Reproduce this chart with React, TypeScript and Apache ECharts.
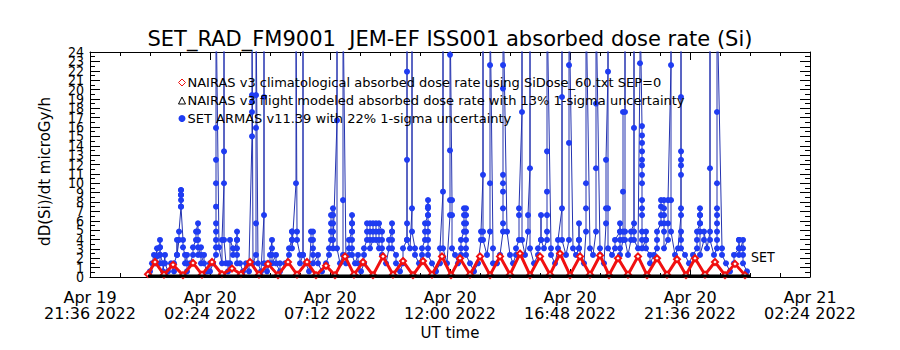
import React, { useEffect, useRef } from "react";
import * as echarts from "echarts";

// x axis: hours since Apr 19 2022 21:36 UT
const xTickLabels = [
  "Apr 19\n21:36 2022",
  "Apr 20\n02:24 2022",
  "Apr 20\n07:12 2022",
  "Apr 20\n12:00 2022",
  "Apr 20\n16:48 2022",
  "Apr 20\n21:36 2022",
  "Apr 21\n02:24 2022",
];
// y tick labels (every integer 0..24, split in two sets so all are drawn)
const yTicksEven = [0, 2, 4, 6, 8, 10, 12, 14, 16, 18, 20, 22, 24];
const yTicksOdd = [1, 3, 5, 7, 9, 11, 13, 15, 17, 19, 21, 23];

const titleText = "SET_RAD_FM9001  JEM-EF ISS001 absorbed dose rate (Si)";
const yName = "dD(Si)/dt microGy/h";
const xName = "UT time";
const legendNames = [
  "NAIRAS v3 climatological absorbed dose rate using SiDose_60.txt SEP=0",
  "NAIRAS v3 flight modeled absorbed dose rate with 13% 1-sigma uncertainty",
  "SET ARMAS v11.39 with 22% 1-sigma uncertainty",
];

// NAIRAS climatological (red): troughs and peaks
const nairasHours = [
  2.32, 2.6, 2.96, 3.32, 3.72, 4.12, 4.48, 4.88, 5.28, 5.68, 6.04, 6.4, 6.76, 7.12, 7.52, 7.92,
  8.28, 8.68, 9.04, 9.44, 9.8, 10.2, 10.56, 10.92, 11.32, 11.72, 12.12, 12.52, 12.92, 13.32,
  13.68, 14.08, 14.44, 14.8, 15.2, 15.6, 16.0, 16.4, 16.8, 17.2, 17.6, 18.0, 18.4, 18.8, 19.2,
  19.6, 20.0, 20.4, 20.76, 21.12, 21.52, 21.92, 22.28, 22.68, 23.08, 23.48, 23.84, 24.2, 24.6,
  25.0, 25.4, 25.8, 26.2,
];
const nairasDose = [
  0.3, 1.6, 0.25, 1.3, 0.2, 1.5, 0.25, 1.6, 0.3, 0.9, 0.3, 1.6, 0.25, 1.4, 0.2, 1.6,
  0.25, 1.6, 0.2, 1.2, 0.2, 2.2, 0.25, 1.6, 0.2, 2.2, 0.25, 1.7, 0.2, 1.7,
  0.25, 2.2, 0.2, 2.0, 0.25, 2.2, 0.2, 2.2, 0.25, 2.5, 0.2, 2.2, 0.25, 2.5, 0.2,
  2.2, 0.25, 2.3, 0.2, 2.0, 0.25, 2.2, 0.2, 2.0, 0.25, 1.9, 0.2, 2.0, 0.25,
  1.6, 0.2, 1.4, 0.2,
];

// NAIRAS flight modeled (black)
const flightHours = [2.32, 5.0, 8.0, 11.0, 14.0, 17.0, 20.0, 23.0, 26.4];
const flightDose = [0.1, 0.12, 0.1, 0.12, 0.1, 0.12, 0.1, 0.1, 0.1];

// SET ARMAS (blue): [hour, successive readings around that hour]; 30 = off scale
const setColumns: [number, number[]][] = [
  [2.4, [0.6]], [2.48, [1.46]], [2.56, [2.35]], [2.6, [1.46]], [2.68, [3.06, 2.2, 1.46]],
  [2.8, [1.46, 2.35, 3.17, 3.95, 3.17, 2.35]], [2.92, [1.46, 0.6]], [3.0, [2.35, 1.46]],
  [3.12, [0.6]], [3.24, [1.46]], [3.36, [0.6, 1.46]], [3.48, [2.35, 3.95, 2.35]],
  [3.56, [3.95, 4.84]], [3.64, [7.5, 8.2, 8.75, 9.28, 9.28, 8.75, 7.5]], [3.72, [3.95, 3.17]],
  [3.8, [2.35, 1.46]], [3.88, [2.35, 1.46, 0.6]], [4.0, [1.46]], [4.12, [2.35, 3.17]],
  [4.24, [3.95, 4.84]], [4.32, [5.72, 4.84, 3.95, 3.17, 2.35]], [4.44, [3.17, 2.35, 1.46]],
  [4.56, [2.35, 1.46]], [4.68, [0.6]], [4.8, [1.46, 0.6]], [4.92, [1.46]],
  [5.04, [2.35, 3.17, 3.95, 4.84, 5.72, 7.5, 10.0, 12.5, 15.9, 30]], [5.16, [3.17]],
  [5.28, [1.46, 3.95]], [5.36, [10.0, 13.4, 30, 3.95]], [5.44, [1.46]], [5.52, [1.46, 0.6]],
  [5.6, [1.46, 3.95]], [5.72, [3.06, 2.35]], [5.88, [3.95, 4.84, 3.95, 3.06, 2.35, 1.46]],
  [6.0, [1.46]], [6.12, [0.6]], [6.24, [1.46]], [6.36, [0.6, 1.46]],
  [6.48, [15.0, 17.6, 18.7, 19.4, 30]], [6.52, [1.46]], [6.64, [2.35, 5.72, 15.9, 19.4, 30]],
  [6.72, [1.46]], [6.84, [0.6]], [6.96, [6.6, 19.2, 30, 1.46]], [7.08, [1.46, 0.6]],
  [7.2, [1.46, 2.35]], [7.28, [3.95, 3.06, 2.35, 1.46]], [7.44, [2.35, 1.46]],
  [7.6, [0.6, 1.46]], [7.8, [1.46]], [7.96, [2.35, 3.06]], [8.08, [3.95, 4.84, 4.84, 3.95, 3.06]],
  [8.24, [10.0, 30]], [8.28, [4.84, 3.95]], [8.4, [2.35, 1.46]], [8.52, [2.35, 30, 2.35]],
  [8.64, [1.46]], [8.76, [0.6]], [8.84, [3.95, 4.84]], [8.92, [4.84, 3.95, 3.06, 2.35, 1.46]],
  [9.12, [2.35, 1.46]], [9.28, [0.6]], [9.44, [1.46]], [9.56, [2.35, 3.06]],
  [9.64, [3.95, 4.84, 5.72, 6.6]], [9.72, [7.33, 6.6, 5.72, 4.84, 3.95, 3.06]],
  [9.88, [16.7, 30, 3.06]], [10.0, [1.46]], [10.12, [2.35, 8.2, 30]], [10.24, [1.46]],
  [10.36, [2.35, 3.06, 3.95]], [10.48, [4.84, 5.72, 6.6, 5.72, 4.84, 3.95, 3.06, 2.35]],
  [10.6, [1.46]], [10.72, [2.35, 1.46]], [10.84, [0.6]], [10.96, [1.46, 2.35, 3.06]],
  [11.08, [3.95, 4.84, 5.72]], [11.2, [5.72, 4.84, 3.95, 3.06]], [11.32, [3.95, 4.84, 5.72]],
  [11.44, [5.72, 4.84, 3.95]], [11.56, [3.06, 3.95, 4.84, 5.72]], [11.68, [4.84, 3.95, 3.06, 2.35]],
  [11.84, [1.46]], [11.96, [3.06, 3.95]], [12.08, [4.84, 5.72, 4.84, 3.95, 3.06]],
  [12.24, [2.35, 1.46]], [12.4, [0.6]], [12.52, [1.46, 3.06]],
  [12.68, [3.95, 5.72, 12.5, 21.9, 30, 3.95]], [12.8, [3.06]], [12.88, [7.33, 30, 4.84]],
  [13.0, [3.06, 2.35]], [13.16, [1.46]], [13.28, [2.35, 3.06]], [13.4, [3.95, 4.84, 5.72]],
  [13.52, [6.6, 7.5, 8.2, 7.33, 6.6, 5.72, 4.84, 3.95, 3.06, 2.35]], [13.68, [1.46]],
  [13.84, [0.6]], [14.0, [1.46, 3.06]], [14.12, [9.1, 30, 3.06]], [14.28, [1.46]],
  [14.4, [6.6, 8.2, 13.5, 23.7, 30]], [14.48, [8.2, 6.6, 3.06]], [14.6, [2.35]], [14.72, [1.46]],
  [14.84, [2.35, 3.06, 3.95]], [14.96, [4.84, 5.72, 6.6, 7.33]],
  [15.04, [7.33, 6.6, 5.72, 4.84, 3.95, 3.06, 2.35]], [15.2, [1.46]], [15.36, [0.6]],
  [15.52, [1.46]], [15.64, [3.95, 4.84]], [15.72, [10.9, 30, 4.84, 3.95]], [15.88, [2.35]],
  [16.0, [4.84, 10.0, 22.6, 24.2, 30]], [16.12, [3.06, 1.46]], [16.28, [1.46]], [16.4, [2.35]],
  [16.52, [4.84, 5.72, 7.33, 9.1, 10.0, 10.9, 20.1, 22.6, 30]], [16.68, [4.84]], [16.8, [2.35]],
  [16.92, [1.46]], [17.04, [2.35, 3.06]], [17.16, [3.95, 6.6, 7.33]], [17.28, [17.6, 30, 3.95]],
  [17.4, [2.35]], [17.52, [4.84, 6.6]], [17.6, [11.6, 24.2, 30, 3.06]], [17.76, [1.46]],
  [17.92, [2.35, 3.06]], [18.04, [3.95, 6.6, 3.95]], [18.16, [3.06]],
  [18.28, [3.95, 4.84, 6.6, 9.1, 13.4, 30]], [18.44, [3.06, 2.35]], [18.6, [1.46]],
  [18.72, [3.06, 3.95]], [18.88, [7.33, 19.2, 30, 3.95]], [19.04, [2.35]],
  [19.16, [3.95, 14.3, 22.6, 30]], [19.32, [3.06]], [19.44, [2.35]],
  [19.56, [3.06, 3.95, 5.72, 3.95, 3.06]], [19.76, [1.46]], [19.84, [4.84, 7.33, 10.0, 30]],
  [20.0, [3.06]], [20.12, [2.35]], [20.24, [4.84, 11.6, 18.5, 24.2, 30]], [20.4, [3.06, 2.35]],
  [20.56, [1.46]], [20.64, [5.72, 7.33, 12.5]], [20.72, [21.9, 30, 7.33, 3.06]], [20.88, [2.35]],
  [21.0, [3.06, 3.95]], [21.2, [4.84, 5.72, 4.84, 3.95, 3.06, 2.35]], [21.32, [3.95, 4.84, 9.1, 17.6]],
  [21.4, [17.6, 30, 4.84, 3.95]], [21.52, [2.35]], [21.64, [3.95, 4.84]],
  [21.76, [5.72, 15.9, 30, 4.84, 3.95]], [21.92, [3.06]], [22.0, [22.8, 30]],
  [22.08, [16.1, 15.1, 14.3, 13.4, 12.5, 11.9, 10.9, 10.0, 8.2, 7.33, 6.6, 4.84, 3.95, 3.06]],
  [22.24, [3.95, 4.84, 3.95, 3.06]], [22.4, [2.35, 1.46]], [22.56, [2.35]],
  [22.68, [3.06, 3.95, 4.84]], [22.84, [5.72, 6.6, 7.5, 8.2]],
  [22.96, [8.2, 7.33, 6.6, 5.72, 4.84, 3.06]], [23.12, [3.95, 5.72, 8.2]],
  [23.24, [22.6, 30, 8.2, 4.84]], [23.4, [2.35]], [23.52, [3.06]],
  [23.64, [6.6, 7.33, 11.9, 12.5, 13.4, 19.2, 30, 10.9, 3.95, 4.84, 3.06]], [23.8, [2.35]],
  [23.96, [1.46]], [24.12, [2.35]], [24.28, [3.06, 3.95, 4.84]],
  [24.4, [5.72, 6.6, 7.33, 6.6, 5.72, 4.84, 2.35]], [24.56, [3.95, 4.84]], [24.68, [3.06]],
  [24.8, [4.84, 11.6, 30, 3.95]], [24.96, [2.35]],
  [25.08, [3.06, 3.95, 4.84, 5.72, 6.6, 7.33, 10.0, 17.6, 30]], [25.28, [3.06, 2.35]],
  [25.44, [1.46]], [25.6, [0.6]], [25.76, [1.46, 2.35]], [25.96, [3.06, 3.95, 3.95, 3.06, 2.35]],
  [26.12, [3.95, 3.06, 2.35, 1.46]], [26.28, [0.6]],
];

const setLabelAt: [number, number] = [26.4, 2.13];

const FONT = '"DejaVu Sans", sans-serif';
const FONT_NARROW = '"DejaVu Sans Condensed", "DejaVu Sans", sans-serif';
const RED = "#f01010";
const BLUE_DOT = "#1f3cf2";
const BLUE_LINE = "#2433b0";

export default function App() {
  const ref = useRef<HTMLDivElement>(null);
  useEffect(() => {
    const chart = echarts.init(ref.current!, null, { renderer: "svg" });
    const setData = setColumns.flatMap(([h, vals]) => vals.map((v) => [h, v]));
    const nairasData = nairasHours.map((h, i) => [h, nairasDose[i]]);
    const flightData = flightHours.map((h, i) => [h, flightDose[i]]);
    const axisCommon = {
      axisLine: { show: true, onZero: false, lineStyle: { color: "#000", width: 1 } },
      splitLine: { show: false },
      minorSplitLine: { show: false },
    };
    const yLabelStyle = {
      fontFamily: FONT_NARROW,
      fontSize: 14,
      margin: 6,
      color: "#000",
      showMinLabel: true,
      showMaxLabel: true,
    };
    chart.setOption({
      animation: false,
      backgroundColor: "#fff",
      title: {
        text: titleText,
        left: "center",
        top: 23,
        textStyle: { fontFamily: FONT, fontSize: 21, fontWeight: "normal", color: "#000" },
      },
      grid: { left: 90, right: 90, top: 52, bottom: 73, containLabel: false },
      legend: {
        orient: "vertical",
        left: 173,
        top: 71,
        itemGap: 5,
        itemWidth: 7,
        itemHeight: 7,
        textStyle: { fontFamily: FONT, fontSize: 13, color: "#000", padding: [0, 0, 0, -3] },
        data: [
          { name: legendNames[0], icon: "diamond", itemStyle: { color: "#fff", borderColor: RED, borderWidth: 1 } },
          { name: legendNames[1], icon: "triangle", itemStyle: { color: "#fff", borderColor: "#000", borderWidth: 1 } },
          { name: legendNames[2], icon: "circle", itemStyle: { color: BLUE_DOT } },
        ],
      },
      xAxis: [
        {
          ...axisCommon,
          type: "value",
          position: "bottom",
          min: 0,
          max: 28.8,
          interval: 4.8,
          axisTick: { show: true, inside: true, length: 8, lineStyle: { color: "#000" } },
          minorTick: { show: true, splitNumber: 4, length: 4, lineStyle: { color: "#000" } },
          axisLabel: {
            formatter: (v: number) => xTickLabels[Math.round(v / 4.8)] ?? "",
            fontFamily: FONT,
            fontSize: 16,
            lineHeight: 16,
            margin: 12,
            color: "#000",
            showMinLabel: true,
            showMaxLabel: true,
          },
          name: xName,
          nameLocation: "middle",
          nameGap: 47,
          nameTextStyle: { fontFamily: FONT, fontSize: 15, color: "#000" },
        },
        {
          ...axisCommon,
          type: "value",
          position: "top",
          min: 0,
          max: 28.8,
          interval: 4.8,
          axisTick: { show: true, inside: true, length: 8, lineStyle: { color: "#000" } },
          minorTick: { show: true, splitNumber: 4, length: 4, lineStyle: { color: "#000" } },
          axisLabel: { show: false },
        },
      ],
      yAxis: [
        {
          ...axisCommon,
          type: "value",
          position: "left",
          min: 0,
          max: 24,
          interval: 1,
          axisTick: { show: true, inside: true, length: 10, lineStyle: { color: "#000" } },
          minorTick: { show: true, splitNumber: 2, length: 5, lineStyle: { color: "#000" } },
          axisLabel: { ...yLabelStyle, customValues: yTicksEven },
          name: yName,
          nameLocation: "middle",
          nameGap: 38,
          nameTextStyle: { fontFamily: FONT, fontSize: 15, color: "#000", padding: [0, 14, 0, 0] },
        },
        {
          type: "value",
          position: "left",
          offset: 0,
          min: 0,
          max: 24,
          interval: 1,
          axisLine: { show: false },
          axisTick: { show: false },
          splitLine: { show: false },
          axisLabel: { ...yLabelStyle, customValues: yTicksOdd },
        },
        {
          ...axisCommon,
          type: "value",
          position: "right",
          min: 0,
          max: 24,
          interval: 1,
          axisTick: { show: true, inside: true, length: 10, lineStyle: { color: "#000" } },
          minorTick: { show: true, splitNumber: 2, length: 5, lineStyle: { color: "#000" } },
          axisLabel: { show: false },
        },
      ],
      series: [
        {
          name: legendNames[2],
          type: "line",
          data: setData,
          symbol: "circle",
          symbolSize: 6,
          showAllSymbol: true,
          lineStyle: { color: BLUE_LINE, width: 1 },
          itemStyle: { color: BLUE_DOT },
          z: 2,
          markPoint: {
            symbol: "circle",
            symbolSize: 0,
            silent: true,
            label: {
              show: true,
              position: "right",
              distance: 1,
              formatter: "SET",
              fontFamily: FONT_NARROW,
              fontSize: 14,
              color: "#000",
            },
            data: [{ coord: setLabelAt }],
          },
        },
        {
          name: legendNames[0],
          type: "line",
          data: nairasData,
          symbol: "emptyDiamond",
          symbolSize: 6,
          showAllSymbol: true,
          lineStyle: { color: RED, width: 3 },
          itemStyle: { color: RED, borderWidth: 1 },
          z: 3,
        },
        {
          name: legendNames[1],
          type: "line",
          data: flightData,
          symbol: "none",
          lineStyle: { color: "#000", width: 3 },
          itemStyle: { color: "#000" },
          z: 4,
        },
      ],
    });
    return () => chart.dispose();
  }, []);
  return (
    <div
      ref={ref}
      style={{ position: "absolute", left: 0, top: 0, width: 900, height: 350, background: "#fff" }}
    />
  );
}
